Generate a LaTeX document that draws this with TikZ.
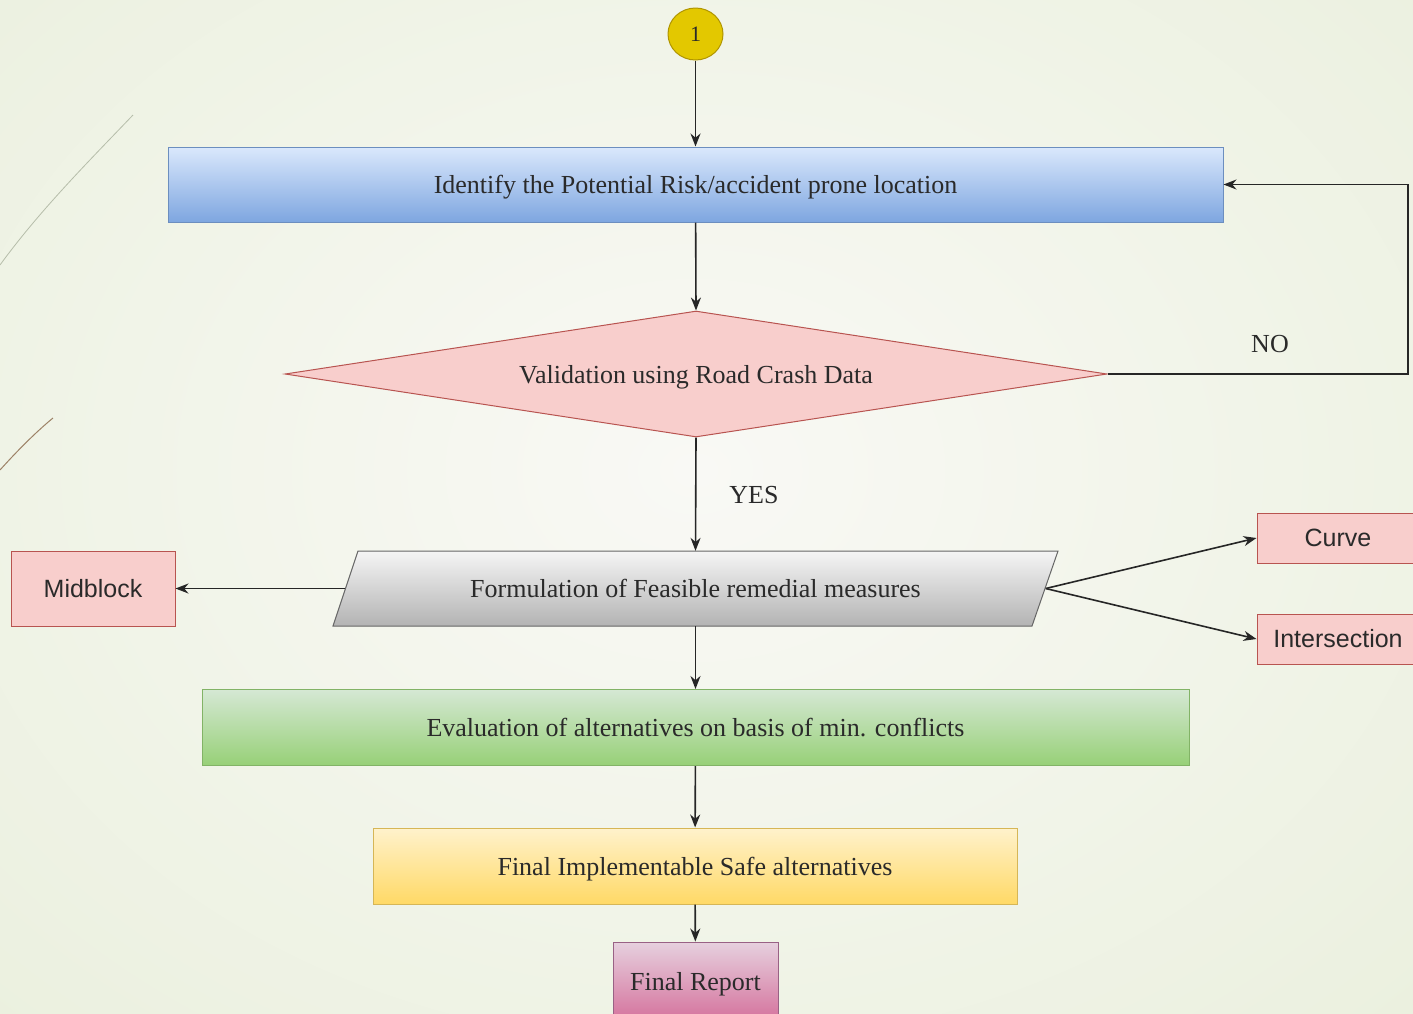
\documentclass[tikz,border=0pt]{standalone}
\usepackage{fontspec}
\setmainfont{Liberation Serif}
\newfontfamily\labelsans{Liberation Sans}
\usetikzlibrary{arrows.meta,shapes.geometric}

\definecolor{bgedge}{HTML}{E4ECD4}
\definecolor{bgmid}{HTML}{F9F9F5}
\definecolor{txt}{HTML}{2A2A2A}
\definecolor{blueTop}{HTML}{DAE8FC}
\definecolor{blueBot}{HTML}{7EA6E0}
\definecolor{blueLine}{HTML}{6C8EBF}
\definecolor{redFill}{HTML}{F8CECC}
\definecolor{redLine}{HTML}{B85450}
\definecolor{grayTop}{HTML}{F5F5F5}
\definecolor{grayBot}{HTML}{B3B3B3}
\definecolor{grayLine}{HTML}{666666}
\definecolor{greenTop}{HTML}{D5E8D4}
\definecolor{greenBot}{HTML}{97D077}
\definecolor{greenLine}{HTML}{82B366}
\definecolor{yelTop}{HTML}{FFF2CC}
\definecolor{yelBot}{HTML}{FFD966}
\definecolor{yelLine}{HTML}{D6B656}
\definecolor{pinkTop}{HTML}{E6D0DE}
\definecolor{pinkBot}{HTML}{D5739D}
\definecolor{pinkLine}{HTML}{996185}
\definecolor{startFill}{HTML}{E3C800}
\definecolor{startLine}{HTML}{B09500}

\tikzset{
  flowtext/.style={font=\fontsize{26}{30}\selectfont, text=txt,
    text height=22pt, text depth=4pt},
  stepbox/.style={rectangle, draw, line width=1pt, inner sep=0pt, flowtext},
  sidebox/.style={rectangle, draw=redLine, fill=redFill, line width=1pt, inner sep=0pt,
    font=\labelsans\fontsize{25}{29}\selectfont, text=txt},
  link/.style={line width=1.6pt, draw=black!85, -{Stealth[length=13pt,width=10pt]}},
}

\begin{document}
\begin{tikzpicture}[x=1pt,y=-1pt]
  % page and backdrop
  \useasboundingbox (0,0) rectangle (1413,1013);
  \clip (0,0) rectangle (1413,1013);
  \fill[bgedge] (0,0) rectangle (1413,1013);
  \shade[inner color=bgmid, outer color=bgedge] (695,470) ellipse [x radius=1500, y radius=1150];

  % thin ornamental strokes on the left
  \draw[line width=0.8pt, color=black!20!bgedge] (0,265) .. controls (40,210) and (90,160) .. (133,115);
  \draw[line width=1pt, color=brown!60!black!70] (0,470) .. controls (18,450) and (36,432) .. (53,418);

  % start marker
  \node[ellipse, draw=startLine, fill=startFill, line width=1pt, minimum width=55pt,
        minimum height=52pt, inner sep=0pt, font=\fontsize{22}{26}\selectfont, text=txt]
        (start) at (695.5,34) {1};

  % main steps
  \node[stepbox, draw=blueLine, top color=blueTop, bottom color=blueBot,
        minimum width=1055pt, minimum height=75pt] (identify) at (695.5,184.5)
        {Identify the Potential Risk/accident prone location};

  \node[diamond, draw=redLine, fill=redFill, line width=1pt, inner sep=0pt, aspect=6.5,
        minimum width=822pt, minimum height=126pt, flowtext] (validate) at (696,374)
        {Validation using Road Crash Data};

  % slanted box for the measures step
  \shade[top color=grayTop, bottom color=grayBot, draw=grayLine, line width=1pt]
    (358,551) -- (1058,551) -- (1032,626) -- (333,626) -- cycle;
  \node[rectangle, inner sep=0pt, minimum width=700pt, minimum height=75pt, flowtext]
    (measures) at (695.5,588.5) {Formulation of Feasible remedial measures};

  \node[stepbox, draw=greenLine, top color=greenTop, bottom color=greenBot,
        minimum width=987pt, minimum height=76pt] (evaluate) at (695.5,727.5)
        {Evaluation of alternatives on basis of min. conflicts};

  \node[stepbox, draw=yelLine, top color=yelTop, bottom color=yelBot,
        minimum width=644pt, minimum height=76pt] (final) at (695,866)
        {Final Implementable Safe alternatives};

  \node[stepbox, draw=pinkLine, top color=pinkTop, bottom color=pinkBot,
        minimum width=165pt, minimum height=78pt] (report) at (695.5,981)
        {Final Report};

  % location types
  \node[sidebox, minimum width=164pt, minimum height=75pt] (midblock) at (93,588.5) {Midblock};
  \node[sidebox, minimum width=162pt, minimum height=50pt] (curve) at (1338,538) {Curve};
  \node[sidebox, minimum width=162pt, minimum height=50pt] (inter) at (1338,639) {Intersection};

  % connectors
  \draw[link] (start) -- (identify);
  \draw[link] (identify) -- (validate.north);
  \coordinate (loop) at (1408,374);
  \draw[link] (validate.east) -- (loop) |- (identify.east);
  \node[flowtext] (nolabel) at (1270,343) {NO};
  \draw[link] (validate.south) -- (measures.north);
  \node[flowtext] (yeslabel) at (754,494) {YES};
  \draw[link] (measures.west) -- (midblock.east);
  \draw[link] (measures.east) -- (curve.west);
  \draw[link] (measures.east) -- (inter.west);
  \draw[link] (measures.south) -- (evaluate.north);
  \draw[link] (evaluate) -- (final);
  \draw[link] (final) -- (report);
\end{tikzpicture}
\end{document}
